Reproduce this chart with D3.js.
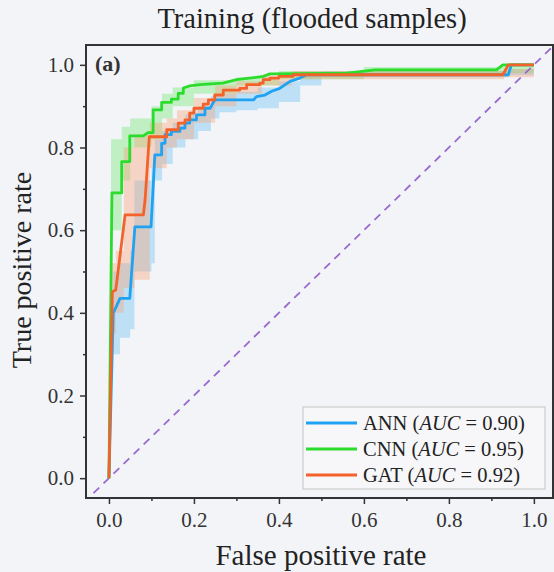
<!DOCTYPE html>
<html>
<head>
<meta charset="utf-8">
<script src="https://cdn.jsdelivr.net/npm/d3@7"></script>
<style>
  body { margin: 0; background: #f3f4f8; }
  text { font-family: "Liberation Serif", "DejaVu Serif", serif; }
</style>
</head>
<body>
<div id="mainDiv"></div>
<script>
'use strict';

// ROC curves (false positive rate / true positive rate)
var annFpr = [0, 0.01, 0.026, 0.049, 0.061, 0.099, 0.108, 0.124, 0.124, 0.132, 0.132, 0.147, 0.147, 0.167, 0.167, 0.179, 0.179, 0.19, 0.19, 0.206, 0.206, 0.226, 0.226, 0.238, 0.249, 0.34, 0.347, 0.367, 0.383, 0.402, 0.426, 0.449, 0.465, 0.94, 0.947, 1];
var annTpr = [0, 0.399, 0.435, 0.435, 0.608, 0.608, 0.782, 0.782, 0.81, 0.81, 0.831, 0.831, 0.839, 0.839, 0.847, 0.847, 0.859, 0.859, 0.867, 0.867, 0.879, 0.879, 0.895, 0.895, 0.915, 0.915, 0.923, 0.927, 0.936, 0.943, 0.96, 0.968, 0.976, 0.976, 1, 1];

var cnnFpr = [0, 0.007, 0.03, 0.03, 0.049, 0.049, 0.081, 0.092, 0.104, 0.104, 0.124, 0.124, 0.147, 0.147, 0.163, 0.163, 0.175, 0.175, 0.19, 0.214, 0.268, 0.30, 0.363, 0.379, 0.56, 0.626, 0.912, 0.927, 1];
var cnnTpr = [0, 0.69, 0.69, 0.766, 0.766, 0.828, 0.828, 0.836, 0.836, 0.891, 0.891, 0.909, 0.909, 0.917, 0.917, 0.931, 0.931, 0.944, 0.949, 0.952, 0.956, 0.964, 0.972, 0.978, 0.98, 0.988, 0.988, 1, 1];

var gatFpr = [0, 0.008, 0.016, 0.038, 0.081, 0.085, 0.095, 0.136, 0.136, 0.163, 0.163, 0.179, 0.179, 0.19, 0.19, 0.2, 0.2, 0.222, 0.222, 0.234, 0.234, 0.249, 0.249, 0.269, 0.269, 0.308, 0.308, 0.324, 0.324, 0.355, 0.355, 0.363, 0.363, 0.379, 0.379, 0.40, 0.40, 0.433, 0.433, 0.927, 0.94, 1];
var gatTpr = [0, 0.451, 0.455, 0.637, 0.637, 0.673, 0.826, 0.826, 0.843, 0.843, 0.859, 0.859, 0.867, 0.867, 0.883, 0.883, 0.895, 0.895, 0.905, 0.905, 0.915, 0.915, 0.927, 0.927, 0.939, 0.939, 0.943, 0.943, 0.952, 0.952, 0.956, 0.956, 0.964, 0.964, 0.968, 0.968, 0.972, 0.972, 0.976, 0.976, 1, 1];

// shaded bands around each curve
var annBandFpr = [0.005, 0.01, 0.026, 0.05, 0.06, 0.1, 0.108, 0.125, 0.15, 0.18, 0.21, 0.24, 0.26, 0.3, 0.35, 0.4, 0.45, 0.5, 0.94, 1.0];
var annBandLo  = [0.25, 0.30, 0.34, 0.36, 0.50, 0.52, 0.72, 0.76, 0.80, 0.82, 0.84, 0.87, 0.885, 0.89, 0.895, 0.91, 0.95, 0.97, 0.975, 0.99];
var annBandHi  = [0.45, 0.50, 0.52, 0.55, 0.72, 0.75, 0.82, 0.84, 0.86, 0.88, 0.90, 0.925, 0.93, 0.935, 0.945, 0.96, 0.98, 0.985, 0.99, 1.0];

var cnnBandFpr = [0.005, 0.03, 0.05, 0.1, 0.125, 0.15, 0.2, 0.3, 0.4, 0.6, 0.92, 1.0];
var cnnBandLo  = [0.60, 0.72, 0.80, 0.82, 0.87, 0.90, 0.93, 0.95, 0.965, 0.975, 0.98, 0.99];
var cnnBandHi  = [0.82, 0.85, 0.87, 0.90, 0.93, 0.945, 0.963, 0.97, 0.985, 0.995, 1.0, 1.0];

var gatBandFpr = [0.005, 0.016, 0.035, 0.06, 0.096, 0.136, 0.16, 0.2, 0.25, 0.3, 0.36, 0.43, 0.93, 1.0];
var gatBandLo  = [0.35, 0.40, 0.46, 0.48, 0.75, 0.80, 0.82, 0.86, 0.90, 0.93, 0.95, 0.965, 0.97, 0.99];
var gatBandHi  = [0.52, 0.55, 0.80, 0.83, 0.86, 0.87, 0.89, 0.92, 0.95, 0.96, 0.975, 0.985, 0.99, 1.0];

var modelNames = ['ANN', 'CNN', 'GAT'];
var aucValues = ['0.90', '0.95', '0.92'];
var tickValues = [0, 0.2, 0.4, 0.6, 0.8, 1.0];
var minorTickValues = [0.1, 0.3, 0.5, 0.7, 0.9];

var roc = {};

roc.w = 554;
roc.h = 572;
roc.margins = {top: 45, bottom: 74, left: 86, right: 1};

roc.colors = ['#1fa2f2', '#2cdc2c', '#f2622a'];
roc.bandColors = ['#6cc4f6', '#70e870', '#f7a577'];

roc.makeSeries = function()
{
    var fprs = [annFpr, cnnFpr, gatFpr], tprs = [annTpr, cnnTpr, gatTpr];
    var bf = [annBandFpr, cnnBandFpr, gatBandFpr], bl = [annBandLo, cnnBandLo, gatBandLo], bh = [annBandHi, cnnBandHi, gatBandHi];

    return modelNames.map(function(name, i) {
        return {
            name: name,
            auc: aucValues[i],
            color: roc.colors[i],
            band: roc.bandColors[i],
            points: fprs[i].map(function(x, j) { return {x: x, y: tprs[i][j]}; }),
            bandPts: bf[i].map(function(x, j) { return {x: x, lo: bl[i][j], hi: bh[i][j]}; })
        };
    });
}

roc.run = function()
{
    var series = roc.makeSeries();
    var m = roc.margins;

    var svg = d3.select('#mainDiv').append('svg')
        .attr('width', roc.w)
        .attr('height', roc.h);

    svg.append('rect').attr('width', roc.w).attr('height', roc.h).attr('fill', '#f3f4f8');

    var x = d3.scaleLinear().domain([-0.054, 1.045]).range([m.left, roc.w - m.right]);
    var y = d3.scaleLinear().domain([-0.048, 1.048]).range([roc.h - m.bottom, m.top]);

    svg.append('clipPath').attr('id', 'clip')
        .append('rect')
        .attr('x', m.left).attr('y', m.top)
        .attr('width', roc.w - m.right - m.left)
        .attr('height', roc.h - m.bottom - m.top);

    var plot = svg.append('g').attr('clip-path', 'url(#clip)');

    // bands
    var area = d3.area()
        .curve(d3.curveStepAfter)
        .x(function(d) { return x(d.x); })
        .y0(function(d) { return y(d.lo); })
        .y1(function(d) { return y(d.hi); });

    series.forEach(function(s) {
        plot.append('path')
            .datum(s.bandPts)
            .attr('fill', s.band)
            .attr('fill-opacity', 0.4)
            .attr('d', area);
    });

    // chance diagonal
    plot.append('line')
        .attr('x1', x(-0.06)).attr('y1', y(-0.06))
        .attr('x2', x(1.06)).attr('y2', y(1.06))
        .attr('stroke', '#9a6ad0')
        .attr('stroke-width', 1.8)
        .attr('stroke-dasharray', '8,6');

    var line = d3.line()
        .x(function(d) { return x(d.x); })
        .y(function(d) { return y(d.y); });

    series.forEach(function(s) {
        plot.append('path')
            .datum(s.points)
            .attr('fill', 'none')
            .attr('stroke', s.color)
            .attr('stroke-width', 2.8)
            .attr('stroke-linejoin', 'round')
            .attr('d', line);
    });

    // axes
    var xAxis = svg.append('g').attr('transform', 'translate(0,' + (roc.h - m.bottom) + ')');
    xAxis.call(d3.axisBottom(x).tickValues(tickValues).tickFormat(d3.format('.1f')).tickSize(6).tickPadding(8));
    xAxis.append('g').call(d3.axisBottom(x).tickValues(minorTickValues).tickFormat('').tickSize(3));

    var yAxis = svg.append('g').attr('transform', 'translate(' + m.left + ',0)');
    yAxis.call(d3.axisLeft(y).tickValues(tickValues).tickFormat(d3.format('.1f')).tickSize(6).tickPadding(6));
    yAxis.append('g').call(d3.axisLeft(y).tickValues(minorTickValues).tickFormat('').tickSize(3));

    svg.selectAll('.domain').remove();
    svg.selectAll('.tick line').attr('stroke', '#333').attr('stroke-width', 1.5);
    svg.selectAll('.tick text')
        .attr('fill', '#333')
        .style('font-family', '"Liberation Serif", serif')
        .style('font-size', '21px');

    // frame
    svg.append('rect')
        .attr('x', m.left).attr('y', m.top)
        .attr('width', roc.w - m.right - m.left)
        .attr('height', roc.h - m.bottom - m.top)
        .attr('fill', 'none')
        .attr('stroke', '#333')
        .attr('stroke-width', 2);

    // labels
    svg.append('text')
        .attr('x', 312).attr('y', 28)
        .attr('text-anchor', 'middle')
        .attr('fill', '#222')
        .style('font-size', '28.5px')
        .text('Training (flooded samples)');

    svg.append('text')
        .attr('x', 321).attr('y', 565)
        .attr('text-anchor', 'middle')
        .attr('fill', '#222')
        .style('font-size', '29px')
        .text('False positive rate');

    svg.append('text')
        .attr('transform', 'translate(31,' + 270 + ') rotate(-90)')
        .attr('text-anchor', 'middle')
        .attr('fill', '#222')
        .style('font-size', '28px')
        .text('True positive rate');

    svg.append('text')
        .attr('x', 95).attr('y', 71)
        .attr('fill', '#333')
        .style('font-size', '22px')
        .style('font-weight', 'bold')
        .text('(a)');

    // legend
    var leg = svg.append('g');
    leg.append('rect')
        .attr('x', 303).attr('y', 407)
        .attr('width', 242).attr('height', 82)
        .attr('fill', '#f7f7f9')
        .attr('stroke', '#c4c4c4')
        .attr('stroke-width', 1);

    var rows = leg.selectAll('g.row')
        .data(series)
        .enter()
        .append('g')
        .attr('class', 'row')
        .attr('transform', function(d, i) { return 'translate(0,' + (423 + i * 26) + ')'; });

    rows.append('line')
        .attr('x1', 306).attr('x2', 357)
        .attr('stroke', function(d) { return d.color; })
        .attr('stroke-width', 2.8);

    var t = rows.append('text')
        .attr('x', 363).attr('y', 7)
        .attr('fill', '#222')
        .style('font-size', '20.5px');
    t.append('tspan').text(function(d) { return d.name + ' ('; });
    t.append('tspan').style('font-style', 'italic').text('AUC');
    t.append('tspan').text(function(d) { return ' = ' + d.auc + ')'; });
}

window.onload = roc.run;
</script>
</body>
</html>
